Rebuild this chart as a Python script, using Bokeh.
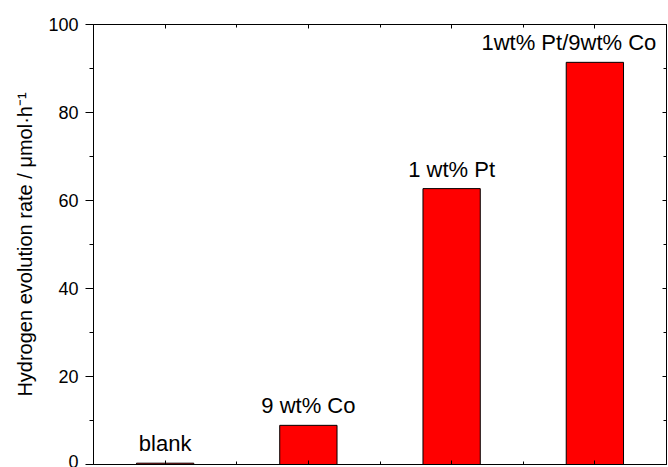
from bokeh.plotting import figure
from bokeh.models import LinearAxis, FixedTicker, ColumnDataSource, Range1d, CustomJSTickFormatter
from bokeh.core.properties import value
from bokeh.embed import file_html
from bokeh.resources import INLINE

# data
categories = ["blank", "9 wt% Co", "1 wt% Pt", "1wt% Pt/9wt% Co"]
positions = [1, 2, 3, 4]
rates = [0.3, 8.9, 62.7, 91.4]
y_ticks = [0, 20, 40, 60, 80, 100]
y_minor = [10, 30, 50, 70, 90]

label_dx = [0, 0, 0, -26]

FONT = "Liberation Sans"

p = figure(width=668, height=467, x_range=Range1d(0.5, 4.5), y_range=Range1d(0, 100),
           output_backend="svg", toolbar_location=None,
           min_border_left=93, min_border_top=24, min_border_right=2, min_border_bottom=3,
           x_axis_location=None, y_axis_location=None)
p.grid.visible = False
p.outline_line_color = "black"
p.outline_line_width = 1
p.background_fill_color = "white"
p.border_fill_color = "white"

src = ColumnDataSource(dict(x=positions, top=rates, label=categories, dx=label_dx))
p.vbar(x="x", top="top", bottom=0, width=0.4, source=src,
       fill_color="#ff0000", line_color="black", line_width=1)
p.text(x="x", y="top", text="label", x_offset="dx", y_offset=-7, source=src,
       text_align="center", text_baseline="bottom",
       text_font=value(FONT), text_font_size="22px", text_color="black")

yticker = FixedTicker(ticks=y_ticks, minor_ticks=y_minor)
left = LinearAxis(ticker=yticker, axis_label="Hydrogen evolution rate / μmol·h⁻¹")
left.major_tick_out = 8
left.major_tick_in = 0
left.minor_tick_out = 4
left.minor_tick_in = 0
left.major_label_standoff = 7
left.axis_label_standoff = 9
left.major_label_text_font = FONT
left.major_label_text_font_size = "18px"
left.axis_label_text_font = FONT
left.axis_label_text_font_size = "20px"
left.axis_label_text_font_style = "normal"
left.axis_line_color = "black"
left.major_tick_line_color = "black"
left.minor_tick_line_color = "black"
left.major_label_text_color = "black"
left.axis_label_text_color = "black"
p.add_layout(left, "left")

blank_fmt = CustomJSTickFormatter(code="return '';")

right = LinearAxis(ticker=yticker, formatter=blank_fmt)
right.major_tick_out = 0
right.major_tick_in = 4
right.minor_tick_out = 0
right.minor_tick_in = 3
right.major_label_standoff = 0
right.axis_line_color = "black"
p.add_layout(right, "right")

xticker = FixedTicker(ticks=positions, minor_ticks=[1.5, 2.5, 3.5])
for loc in ("below", "above"):
    ax = LinearAxis(ticker=xticker, formatter=blank_fmt)
    ax.major_tick_out = 0
    ax.major_tick_in = 4
    ax.minor_tick_out = 0
    ax.minor_tick_in = 3
    ax.major_label_standoff = 0
    ax.axis_line_color = "black"
    p.add_layout(ax, loc)

open("out.html", "w").write(file_html(p, INLINE))
